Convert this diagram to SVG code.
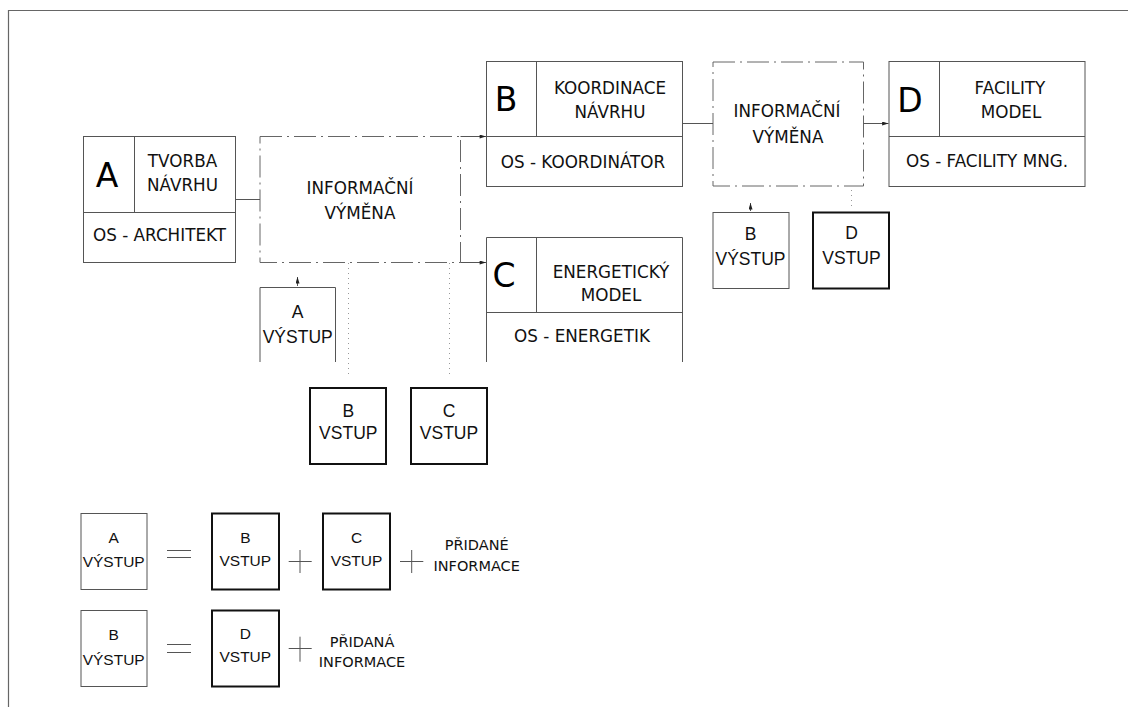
<svg xmlns="http://www.w3.org/2000/svg" width="1128" height="707" viewBox="0 0 1128 707">
<style>
.ln{stroke:#555;stroke-width:1;fill:none}
.fr{stroke:#666;stroke-width:1.2;fill:none}
.thick{stroke:#111;stroke-width:2;fill:none}
.dd{stroke:#666;stroke-width:1;fill:none;stroke-dasharray:22 5 2 5}
.dot{stroke:#999;stroke-width:1;stroke-dasharray:1 4;fill:none}
.t{font-family:'DejaVu Sans',sans-serif;font-size:16.8px;fill:#111;text-anchor:middle}
.big{font-family:'DejaVu Sans',sans-serif;font-size:33px;fill:#000;text-anchor:middle}
.a{font-family:'Liberation Sans',Arial,sans-serif;font-size:17.5px;fill:#111;text-anchor:middle}
.s{font-size:15.5px}
.l{font-size:14.5px}
</style>
<defs>
<marker id="arr" viewBox="0 0 8 5" refX="8" refY="2.5" markerWidth="7" markerHeight="4" orient="auto" markerUnits="userSpaceOnUse"><path d="M0,0 L8,2.5 L0,5z" fill="#222"/></marker>
</defs>
<g id="frame"><path class="fr" d="M8.5,707 V10.5 H1128"/></g>

<g id="nodeA">
<rect class="ln" x="83.5" y="136.5" width="152" height="126"/>
<path class="ln" d="M134.5,136.5 V212.5 M83.5,212.5 H235.5"/>
<text class="big" x="107" y="186.5">A</text>
<text class="t" x="182.5" y="166.5">TVORBA</text>
<text class="t" x="182.5" y="190.5">NÁVRHU</text>
<text class="t" x="159.5" y="241">OS - ARCHITEKT</text>
</g>

<g id="info1">
<rect class="dd" x="260" y="136.5" width="200.5" height="126"/>
<text class="t" x="360" y="194">INFORMAČNÍ</text>
<text class="t" x="360" y="218.5">VÝMĚNA</text>
</g>

<g id="nodeB">
<rect class="ln" x="486.5" y="61.5" width="196" height="125"/>
<path class="ln" d="M536.5,61.5 V136.5 M486.5,136.5 H682.5"/>
<text class="big" x="506" y="111">B</text>
<text class="t" x="610" y="93.5">KOORDINACE</text>
<text class="t" x="610" y="117.5">NÁVRHU</text>
<text class="t" x="583" y="168">OS - KOORDINÁTOR</text>
</g>

<g id="nodeC">
<path class="ln" d="M486.5,362 V237.5 H682.5 V362 M536.5,237.5 V312.5 M486.5,312.5 H682.5"/>
<text class="big" x="504" y="287">C</text>
<text class="t" x="611" y="278">ENERGETICKÝ</text>
<text class="t" x="611" y="301">MODEL</text>
<text class="t" x="582" y="341.5">OS - ENERGETIK</text>
</g>

<g id="info2">
<rect class="dd" x="713" y="62" width="150.5" height="124"/>
<text class="t" x="787" y="117">INFORMAČNÍ</text>
<text class="t" x="788" y="143">VÝMĚNA</text>
</g>

<g id="nodeD">
<rect class="ln" x="889" y="61.5" width="196" height="125"/>
<path class="ln" d="M939.5,61.5 V136.5 M889,136.5 H1085"/>
<text class="big" x="910" y="111.5">D</text>
<text class="t" x="1010" y="93.5">FACILITY</text>
<text class="t" x="1011" y="117.5">MODEL</text>
<text class="t" x="987" y="166.5">OS - FACILITY MNG.</text>
</g>

<g id="aVystup">
<path class="ln" d="M260,362 V287.5 H335.5 V362"/>
<text class="a" x="297.7" y="317.5">A</text>
<text class="a" x="297.7" y="342.5">VÝSTUP</text>
</g>

<g id="bVstup">
<rect class="thick" x="310" y="388" width="76" height="76"/>
<text class="a" x="348.3" y="416.5">B</text>
<text class="a" x="348.3" y="438.5">VSTUP</text>
</g>

<g id="cVstup">
<rect class="thick" x="411" y="388" width="76" height="76"/>
<text class="a" x="449" y="416.5">C</text>
<text class="a" x="449" y="438.5">VSTUP</text>
</g>

<g id="bVystup">
<rect class="ln" x="713" y="212.5" width="76" height="76"/>
<text class="a" x="750.5" y="240">B</text>
<text class="a" x="750.5" y="265">VÝSTUP</text>
</g>

<g id="dVstup">
<rect class="thick" x="813" y="212.5" width="76" height="76"/>
<text class="a" x="851.5" y="238.5">D</text>
<text class="a" x="851.5" y="263.5">VSTUP</text>
</g>

<g id="connectors">
<line class="ln" x1="235.5" y1="199.5" x2="260" y2="199.5"/>
<line class="ln" x1="460.5" y1="136.5" x2="486" y2="136.5" marker-end="url(#arr)"/>
<line class="ln" x1="460.5" y1="262.5" x2="486" y2="262.5" marker-end="url(#arr)"/>
<line class="ln" x1="682.5" y1="123.5" x2="713" y2="123.5"/>
<line class="ln" x1="863.5" y1="123.5" x2="888.5" y2="123.5" marker-end="url(#arr)"/>
<line class="ln" x1="297.5" y1="286" x2="297.5" y2="277" marker-end="url(#arr)"/>
<line class="ln" x1="750.5" y1="211" x2="750.5" y2="203" marker-end="url(#arr)"/>
<line class="dot" x1="348.5" y1="263" x2="348.5" y2="378"/>
<line class="dot" x1="449.5" y1="263" x2="449.5" y2="378"/>
<line class="dot" x1="851.5" y1="190" x2="851.5" y2="207"/>
</g>

<g id="legend1">
<rect class="ln" x="81" y="513.5" width="66" height="76"/>
<text class="a s" x="113.7" y="543">A</text>
<text class="a s" x="113.7" y="567">VÝSTUP</text>
<path class="ln" d="M167,550.5 H191 M167,557.5 H191"/>
<rect class="thick" x="212" y="513.5" width="67" height="76"/>
<text class="a s" x="245.3" y="543">B</text>
<text class="a s" x="245.3" y="566">VSTUP</text>
<path class="ln" d="M288.7,561.5 H311.7 M300,550 V573"/>
<rect class="thick" x="323" y="513.5" width="67" height="76"/>
<text class="a s" x="356.5" y="543">C</text>
<text class="a s" x="356.5" y="566">VSTUP</text>
<path class="ln" d="M400,561.5 H423.3 M411.7,550 V573"/>
<text class="t l" x="476.7" y="550">PŘIDANÉ</text>
<text class="t l" x="476.7" y="571">INFORMACE</text>
</g>

<g id="legend2">
<rect class="ln" x="81" y="610.5" width="66" height="76"/>
<text class="a s" x="113.7" y="640">B</text>
<text class="a s" x="113.7" y="665">VÝSTUP</text>
<path class="ln" d="M167,644.5 H191 M167,652.5 H191"/>
<rect class="thick" x="212" y="610.5" width="67" height="76"/>
<text class="a s" x="245.3" y="638.5">D</text>
<text class="a s" x="245.3" y="662">VSTUP</text>
<path class="ln" d="M288.7,648.5 H311.7 M300,636.7 V661.7"/>
<text class="t l" x="362" y="647">PŘIDANÁ</text>
<text class="t l" x="362" y="667">INFORMACE</text>
</g>
</svg>
